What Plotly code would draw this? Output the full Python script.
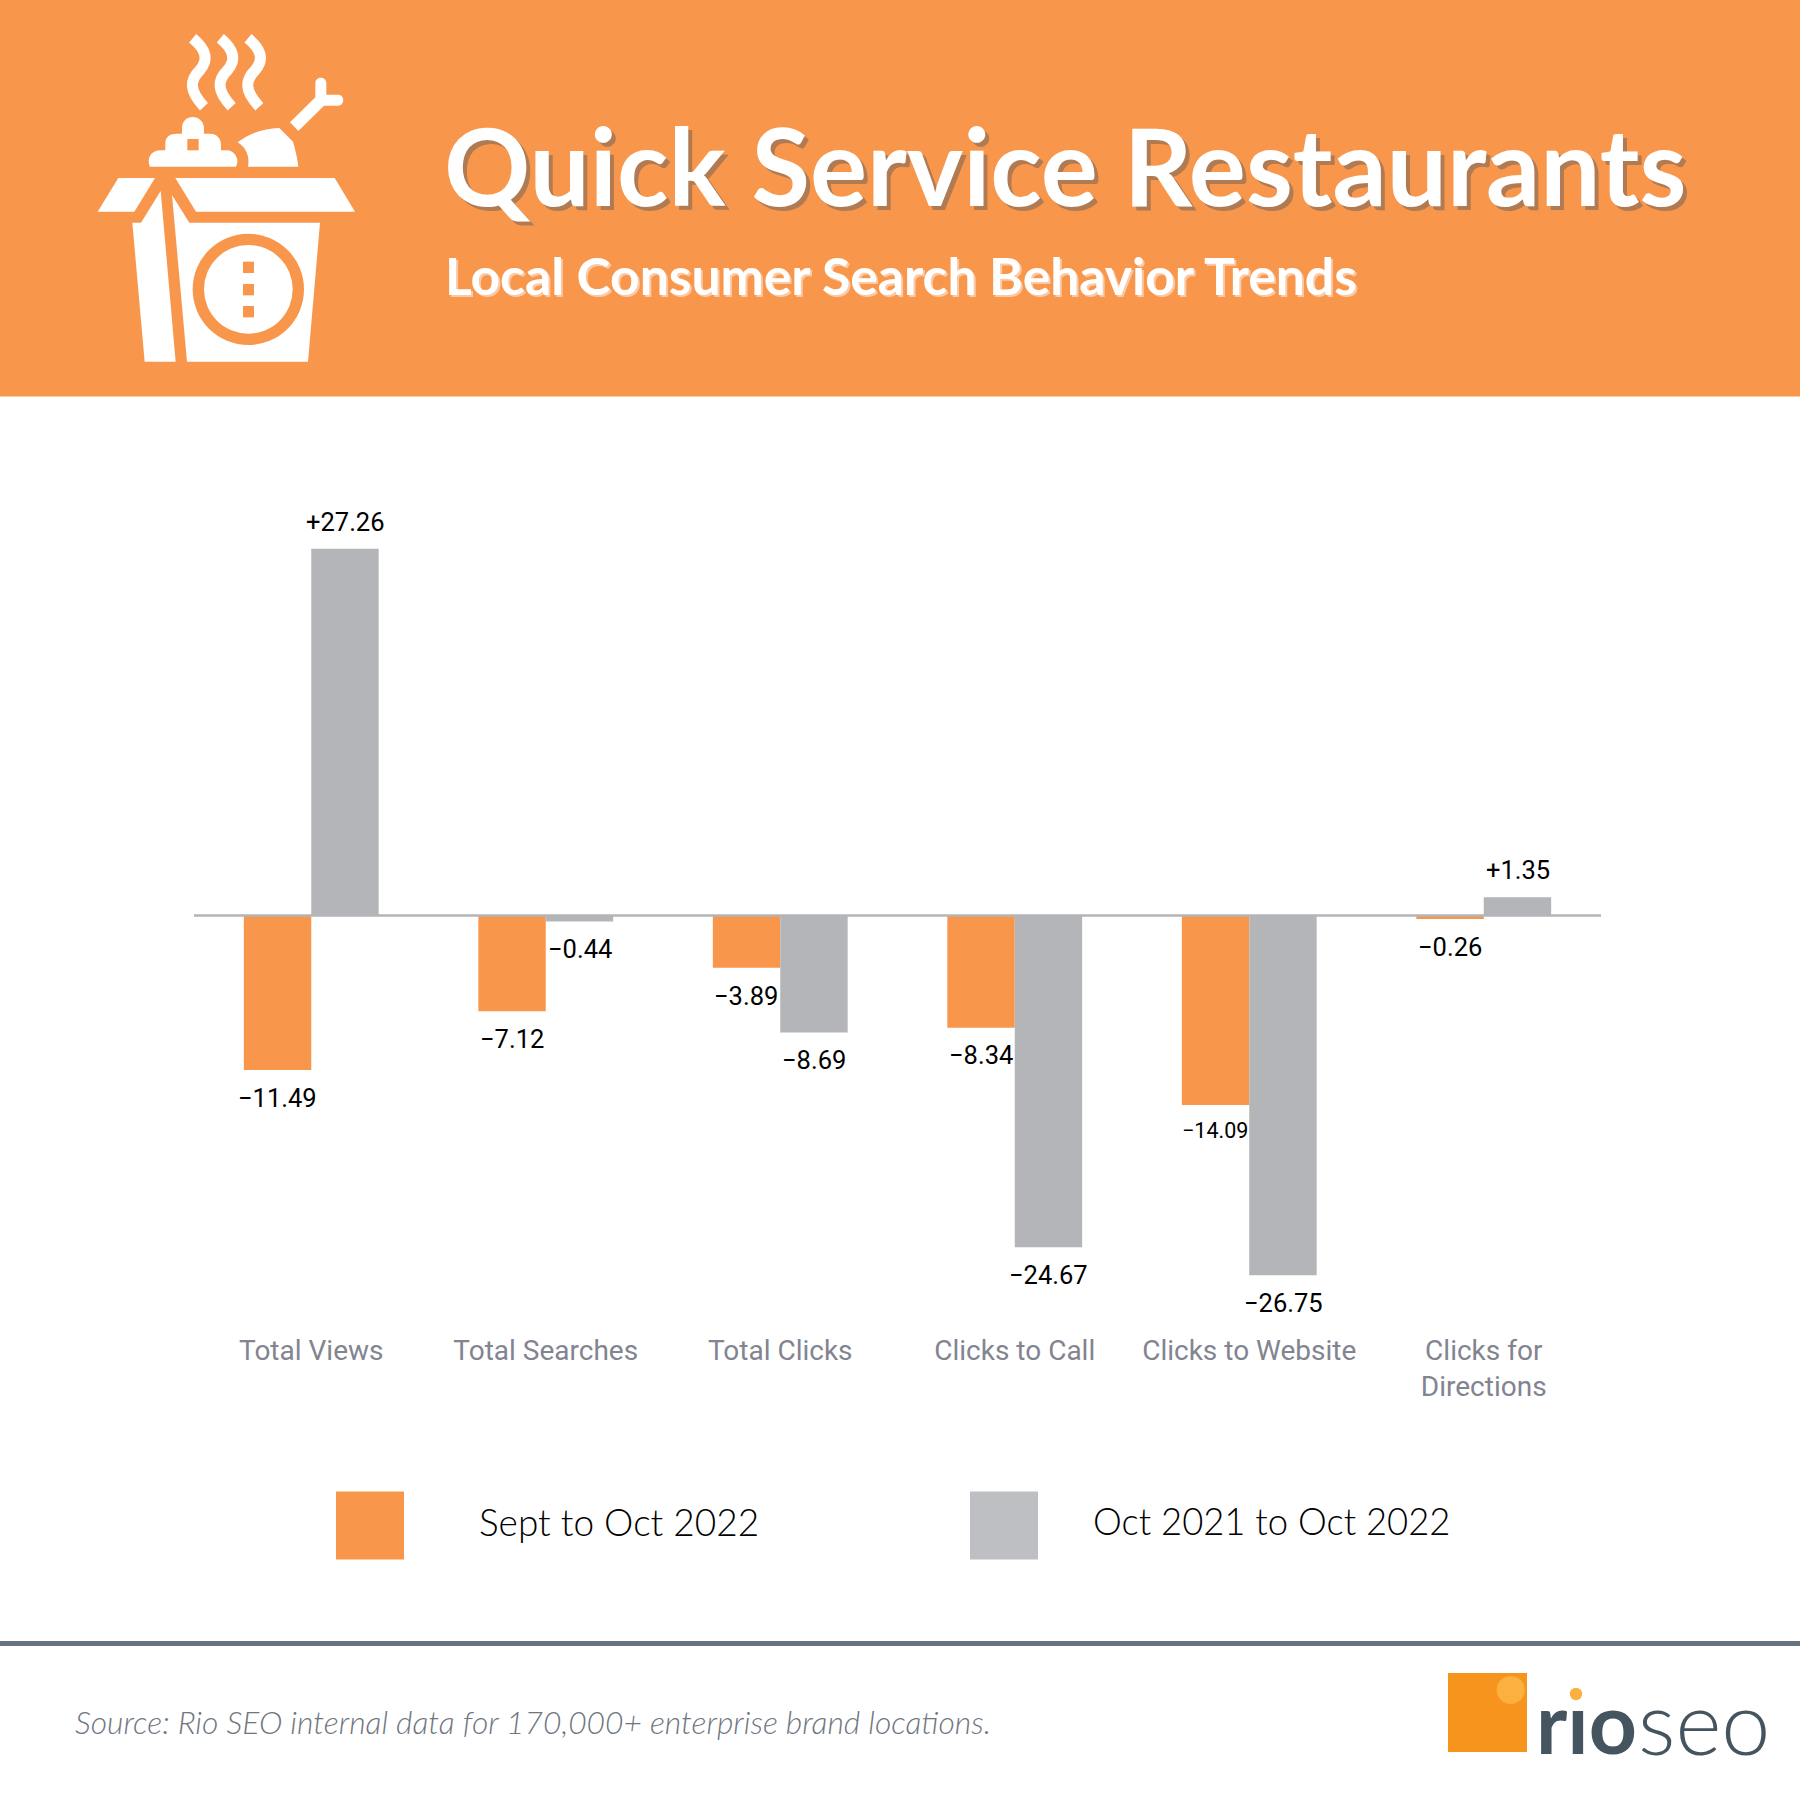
import re
import plotly.graph_objects as go

categories = ["Total Views", "Total Searches", "Total Clicks", "Clicks to Call", "Clicks to Website", "Clicks for<br>Directions"]
sept_oct_2022 = [-11.49, -7.12, -3.89, -8.34, -14.09, -0.26]
oct21_oct22 = [27.26, -0.44, -8.69, -24.67, -26.75, 1.35]
label_sept = ["−11.49", "−7.12", "−3.89", "−8.34", "−14.09", "−0.26"]
label_oct = ["+27.26", "−0.44", "−8.69", "−24.67", "−26.75", "+1.35"]
series_names = ["Sept to Oct 2022", "Oct 2021 to Oct 2022"]

ORANGE = "#F8974C"
GRAY = "#B4B5B9"
SIZE = 1800
HEAD = "Lato"
BODY = "Roboto"
PX_PER_UNIT = 13.45
ZERO_Y = 915.5
PLOT_TOP, PLOT_BOTTOM = 500, 1322
y_hi = (ZERO_Y - PLOT_TOP) / PX_PER_UNIT
y_lo = (ZERO_Y - PLOT_BOTTOM) / PX_PER_UNIT


def to_paper(path, ox=0.0, oy=0.0, scale=1.0):
    """Convert an absolute pixel path into paper coordinates."""
    idx = [0]

    def repl(m):
        v = float(m.group(0))
        if idx[0] % 2 == 0:
            r = (ox + v * scale) / SIZE
        else:
            r = 1 - (oy + v * scale) / SIZE
        idx[0] += 1
        return f"{r:.5f}"

    return re.sub(r"-?\d+\.?\d*", repl, path)


shapes = []


def rect(x0, y0, x1, y1, color, layer="above"):
    shapes.append(dict(type="rect", xref="paper", yref="paper", x0=x0 / SIZE, x1=x1 / SIZE,
                       y0=1 - y0 / SIZE, y1=1 - y1 / SIZE, fillcolor=color, line_width=0, layer=layer))


def circle(cx, cy, r, color):
    shapes.append(dict(type="circle", xref="paper", yref="paper", x0=(cx - r) / SIZE, x1=(cx + r) / SIZE,
                       y0=1 - (cy + r) / SIZE, y1=1 - (cy - r) / SIZE, fillcolor=color, line_width=0))


def icon_path(d, color="white"):
    shapes.append(dict(type="path", xref="paper", yref="paper",
                       path=to_paper(d, 60, 0, 1 / 3), fillcolor=color, line_width=0))


def icx(v):
    return 60 + v / 3


def icy(v):
    return v / 3


# header band and footer rule
rect(0, 0, SIZE, 396.5, ORANGE, "below")
rect(0, 1641, SIZE, 1646, "#667280", "below")

# takeaway box icon (drawn in the 3x crop's coordinates)
for d in [
    "M175,534 L285,534 L223,635 L113,635 Z",
    "M346,534 L824,534 L885,635 L408,635 Z",
    "M217,668 L243,668 L302,573 L347,1085 L254,1085 Z",
    "M336,585 L388,668 L780,668 L744,1085 L381,1085 Z",
    "M270,500 C260,480 270,452 300,451 L316,451 L316,430 C316,410 330,401 350,401 L366,401 L366,385 "
    "C366,362 382,351 398,351 C416,351 432,365 432,385 L432,401 L450,401 C470,401 483,415 483,435 "
    "L483,451 L500,451 C525,451 540,480 528,500 Z",
    "M533,427 C570,400 610,385 658,384 L699,425 C708,455 713,480 715,500 L564,500 C570,470 558,442 533,427 Z",
    "M690,367 L766,292 L766,250 C766,228 799,228 799,250 L799,284 L834,284 C855,284 855,317 834,317 "
    "L792,317 L715,393 Z",
]:
    icon_path(d)
circle(icx(565), icy(868), 167 / 3, ORANGE)
circle(icx(565), icy(868), 133 / 3, "white")
for top in (785, 852, 918):
    rect(icx(549), icy(top), icx(582), icy(top + 34), ORANGE)
rect(icx(382), icy(417), icx(416), icy(451), ORANGE)
for dx in (0, 83, 166):
    shapes.append(dict(type="path", xref="paper", yref="paper",
                       path=to_paper(f"M{398 + dx},115 C{440 + dx},150 {445 + dx},180 {420 + dx},210 "
                                     f"C{390 + dx},240 {385 + dx},270 {432 + dx},320", 60, 0, 1 / 3),
                       line=dict(color="white", width=11)))

# legend swatches
rect(336, 1491.5, 404, 1559.5, ORANGE)
rect(970, 1491.5, 1038, 1559.5, "#BDBFC3")

# logo
rect(1448, 1673, 1527, 1752, "#F7941E")
circle(1510.7, 1690, 14, "#FBB040")
circle(1576, 1694, 6.2, "#FBB040")

# zero line above the bars
shapes.append(dict(type="line", xref="paper", yref="y", x0=194 / SIZE, x1=1601 / SIZE, y0=0, y1=0,
                   line=dict(color=GRAY, width=2.5), layer="above"))

fig = go.Figure()
fig.add_bar(name=series_names[0], x=categories, y=sept_oct_2022, marker=dict(color=ORANGE, line_width=0))
fig.add_bar(name=series_names[1], x=categories, y=oct21_oct22, marker=dict(color=GRAY, line_width=0))

ann = []
BAR_SHIFT = 33.9
for cat, vals, labs, sgn in [(categories, sept_oct_2022, label_sept, -1), (categories, oct21_oct22, label_oct, 1)]:
    for c, v, t in zip(cat, vals, labs):
        small = t == "−14.09"
        ann.append(dict(x=c, y=v, xref="x", yref="y", text=t, showarrow=False, xanchor="center", yanchor="middle",
                        xshift=sgn * BAR_SHIFT, yshift=27 if v > 0 else (-25 if small else -27.8),
                        font=dict(family=BODY, size=21.5 if small else 25.5, color="#000000")))


def text(x, y, s, family, size, color, anchor="left", **font):
    ann.append(dict(x=x / SIZE, y=1 - y / SIZE, xref="paper", yref="paper", text=s, showarrow=False,
                    xanchor=anchor, yanchor="middle", font=dict(family=family, size=size, color=color, **font)))


text(441.5, 165, "Quick Service Restaurants", HEAD, 106.8, "#FFFFFF", weight=700, shadow="4px 4px 0 #B07A52")
text(442.5, 275, "Local Consumer Search Behavior Trends", HEAD, 51.6, "#FFFFFF", weight=700, shadow="2px 2px 0 #FBC9A5")
text(477, 1521, series_names[0], HEAD, 37, "#000000", weight=300)
text(1091, 1521, series_names[1], HEAD, 36.4, "#000000", weight=300)
text(73, 1722, "<i>Source: Rio SEO internal data for 170,000+ enterprise brand locations.</i>", HEAD, 31.8, "#6F7681", weight=300)
text(1534, 1721, "rıo", HEAD, 84, "#455560", weight=700)
text(1636, 1721, "seo", HEAD, 88, "#455560", weight=300)

fig.update_layout(
    width=SIZE, height=SIZE, autosize=False, margin=dict(l=0, r=0, t=0, b=0),
    paper_bgcolor="white", plot_bgcolor="white", showlegend=False,
    barmode="group", bargap=0.425, bargroupgap=0,
    shapes=shapes, annotations=ann,
    xaxis=dict(domain=[194 / SIZE, 1601 / SIZE], type="category", categoryorder="array", categoryarray=categories,
               showgrid=False, zeroline=False, showline=False, ticks="outside", ticklen=3,
               tickcolor="rgba(0,0,0,0)", tickfont=dict(family=BODY, size=28, color="#82848F")),
    yaxis=dict(domain=[1 - PLOT_BOTTOM / SIZE, 1 - PLOT_TOP / SIZE], range=[y_lo, y_hi], visible=False,
               showgrid=False, zeroline=False),
)
fig.write_html("out.html", config=dict(displayModeBar=False),
               post_script="document.body.style.margin='0';document.documentElement.style.overflow='hidden';")
